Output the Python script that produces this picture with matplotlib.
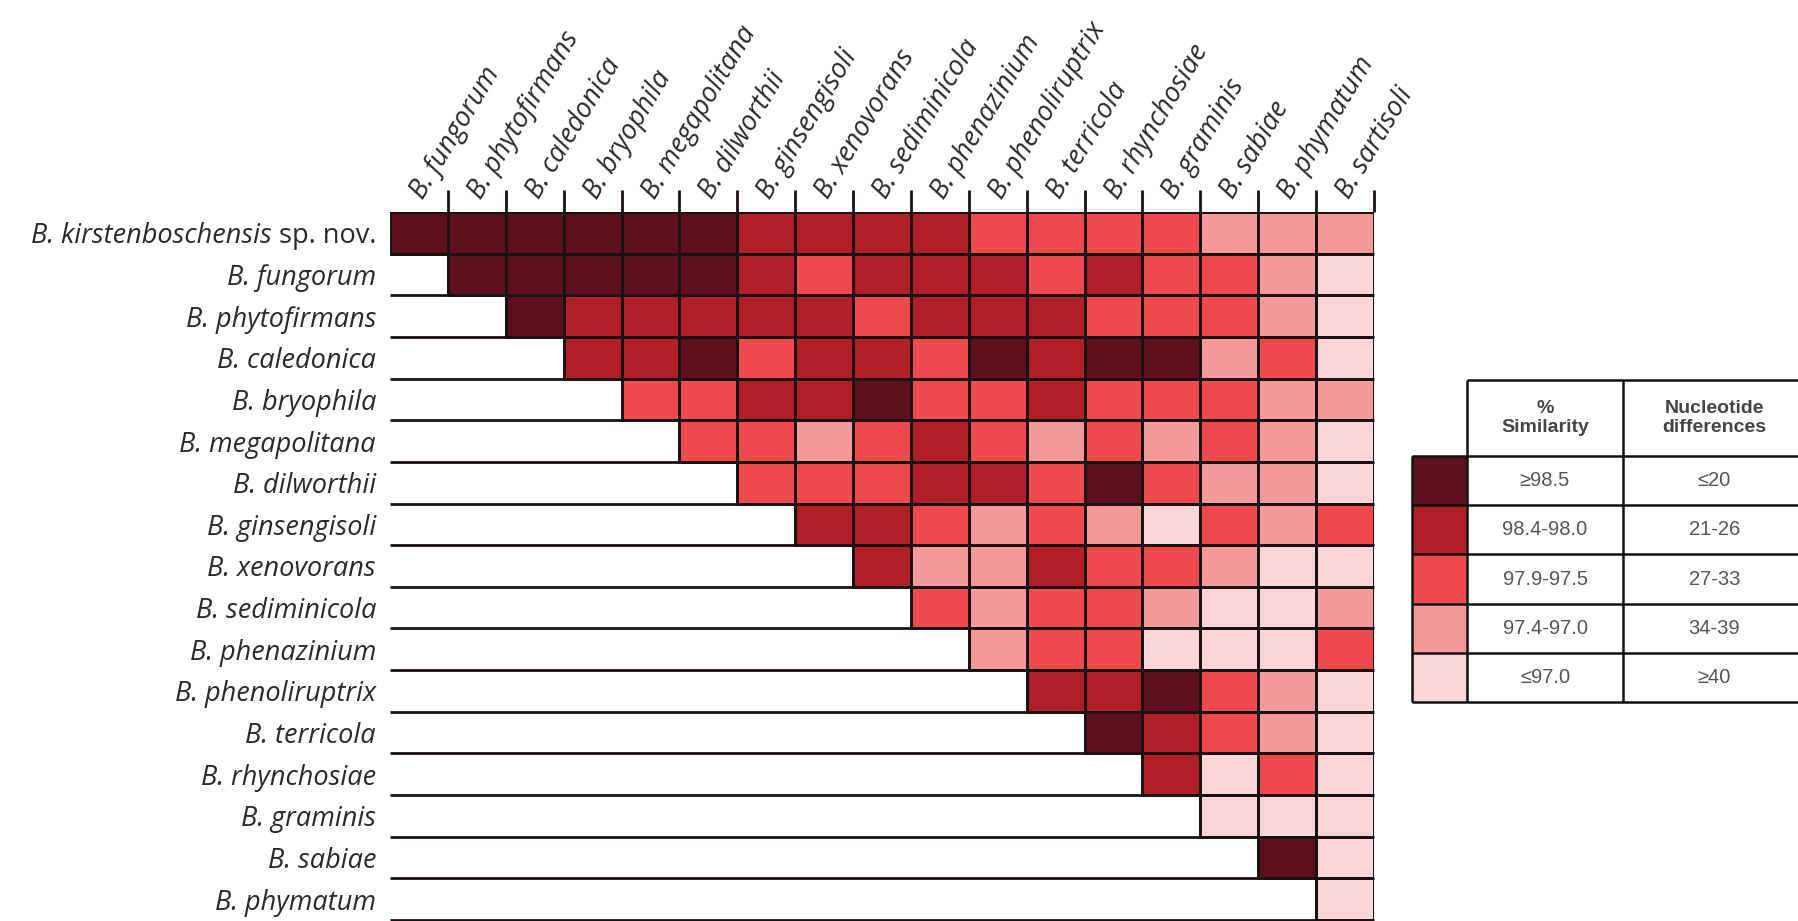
import numpy as np
import matplotlib
matplotlib.use("Agg")
import matplotlib.pyplot as plt
from matplotlib.colors import ListedColormap, BoundaryNorm
from matplotlib.patches import Rectangle

plt.rcParams['font.family'] = ['Open Sans', 'DejaVu Sans']

# ---------------- data ----------------
row_names = ["B. kirstenboschensis", "B. fungorum", "B. phytofirmans", "B. caledonica",
             "B. bryophila", "B. megapolitana", "B. dilworthii", "B. ginsengisoli",
             "B. xenovorans", "B. sediminicola", "B. phenazinium", "B. phenoliruptrix",
             "B. terricola", "B. rhynchosiae", "B. graminis", "B. sabiae", "B. phymatum"]
row_suffix = ["sp. nov."] + [""] * 16
col_names = ["B. fungorum", "B. phytofirmans", "B. caledonica", "B. bryophila",
             "B. megapolitana", "B. dilworthii", "B. ginsengisoli", "B. xenovorans",
             "B. sediminicola", "B. phenazinium", "B. phenoliruptrix", "B. terricola",
             "B. rhynchosiae", "B. graminis", "B. sabiae", "B. phymatum", "B. sartisoli"]

# similarity class (1 = >=98.5 ... 5 = <=97.0); row r starts at column r
row_classes = [
    [1, 1, 1, 1, 1, 1, 2, 2, 2, 2, 3, 3, 3, 3, 4, 4, 4],
    [1, 1, 1, 1, 1, 2, 3, 2, 2, 2, 3, 2, 3, 3, 4, 5],
    [1, 2, 2, 2, 2, 2, 3, 2, 2, 2, 3, 3, 3, 4, 5],
    [2, 2, 1, 3, 2, 2, 3, 1, 2, 1, 1, 4, 3, 5],
    [3, 3, 2, 2, 1, 3, 3, 2, 3, 3, 3, 4, 4],
    [3, 3, 4, 3, 2, 3, 4, 3, 4, 3, 4, 5],
    [3, 3, 3, 2, 2, 3, 1, 3, 4, 4, 5],
    [2, 2, 3, 4, 3, 4, 5, 3, 4, 3],
    [2, 4, 4, 2, 3, 3, 4, 5, 5],
    [3, 4, 3, 3, 4, 5, 5, 4],
    [4, 3, 3, 5, 5, 5, 3],
    [2, 2, 1, 3, 4, 5],
    [1, 2, 3, 4, 5],
    [2, 5, 3, 5],
    [5, 5, 5],
    [1, 5],
    [5],
]

class_colors = ["#5e0f1c", "#b01e26", "#ef4a4e", "#f4999c", "#f9d5d8"]
sim_labels = ["\u226598.5", "98.4-98.0", "97.9-97.5", "97.4-97.0", "\u226497.0"]
nuc_labels = ["\u226420", "21-26", "27-33", "34-39", "\u226540"]
header_labels = ["%\nSimilarity", "Nucleotide\ndifferences"]

# ---------------- figure ----------------
W, H = 1798, 921
fig = plt.figure(figsize=(W / 100, H / 100), dpi=100)
gx0, gx1, gy0, gy1 = 390, 1374, 212, 920
ax = fig.add_axes([gx0 / W, 1 - gy1 / H, (gx1 - gx0) / W, (gy1 - gy0) / H])

n_rows, n_cols = len(row_names), len(col_names)
cmap = ListedColormap(class_colors)
norm = BoundaryNorm(np.arange(0.5, 6.5, 1.0), cmap.N)
edge = "#1a1214"
for r, vals in enumerate(row_classes):
    xe = np.arange(r, r + len(vals) + 1)
    ye = np.array([r, r + 1])
    ax.pcolormesh(xe, ye, np.array([vals]), cmap=cmap, norm=norm,
                  edgecolors=edge, linewidth=2.0)
ax.hlines(np.arange(1, n_rows + 1), 0, n_cols, color=edge, lw=2.0, zorder=3, clip_on=False)
ax.vlines(np.arange(1, n_cols + 1), -0.53, 0, color=edge, lw=2.0, zorder=3, clip_on=False)
ax.set_xlim(0, n_cols)
ax.set_ylim(n_rows, 0)
for s in ax.spines.values():
    s.set_visible(False)
ax.set_xticks([])

fs = 19.5
ax.set_yticks(np.arange(n_rows) + 0.5)
ax.set_yticklabels([name if not suf else "" for name, suf in zip(row_names, row_suffix)],
                   fontsize=fs, color="#2a2a2a", fontstyle="italic")
ax.tick_params(axis="y", length=0, pad=10)

# labels with a non-italic suffix: drawn as two pieces
renderer = fig.canvas.get_renderer()
x_right = gx0 - 10 * 100 / 72
for r, (name, suf) in enumerate(zip(row_names, row_suffix)):
    if not suf:
        continue
    yc = ax.transData.transform((0, r + 0.5))[1]
    t_suf = fig.text(x_right / W, yc / H, suf, ha="right", va="center_baseline",
                     fontsize=fs, color="#2a2a2a")
    bb = t_suf.get_window_extent(renderer)
    space = 0.26 * fs * 100 / 72
    fig.text((bb.x0 - space) / W, yc / H, name, ha="right", va="center_baseline",
             fontsize=fs, color="#2a2a2a", fontstyle="italic")

for c, name in enumerate(col_names):
    ax.text(c + 0.57, -0.29, name, rotation=59, ha="left", va="baseline",
            rotation_mode="anchor", fontstyle="italic", fontsize=fs,
            color="#2a2a2a", clip_on=False)

# ---------------- legend table ----------------
tax = fig.add_axes([0, 0, 1, 1], facecolor="none")
tax.set_xlim(0, W)
tax.set_ylim(H, 0)
tax.axis("off")

sx0, sx1, cx1, cx2 = 1412, 1467, 1623, 1810
hy0, hy1 = 380, 456
row_h = 49.2
lw = 1.8
for i, col in enumerate(class_colors):
    y0 = hy1 + i * row_h
    tax.add_patch(Rectangle((sx0, y0), sx1 - sx0, row_h, facecolor=col,
                            edgecolor="none", zorder=1))
    tax.text((sx1 + cx1) / 2, y0 + row_h / 2, sim_labels[i], ha="center", va="center",
             fontsize=14.5, color="#555555", family="Liberation Sans")
    tax.text((cx1 + cx2) / 2 - 2, y0 + row_h / 2, nuc_labels[i], ha="center", va="center",
             fontsize=14.5, color="#555555", family="Liberation Sans")
ybot = hy1 + 5 * row_h
tax.hlines([hy0], sx1, cx2, color="#111111", lw=lw, clip_on=False)
tax.hlines(hy1 + np.arange(6) * row_h, sx0, cx2, color="#111111", lw=lw, clip_on=False)
tax.vlines([sx0], hy1, ybot, color="#111111", lw=lw)
tax.vlines([sx1, cx1], hy0, ybot, color="#111111", lw=lw)
tax.text((sx1 + cx1) / 2, (hy0 + hy1) / 2, header_labels[0], ha="center", va="center",
         fontsize=14, fontweight="bold", color="#444444", family="Liberation Sans",
         linespacing=1.15)
tax.text((cx1 + cx2) / 2 - 2, (hy0 + hy1) / 2, header_labels[1], ha="center", va="center",
         fontsize=14, fontweight="bold", color="#444444", family="Liberation Sans",
         linespacing=1.15)

fig.savefig("out.png", dpi=100)
